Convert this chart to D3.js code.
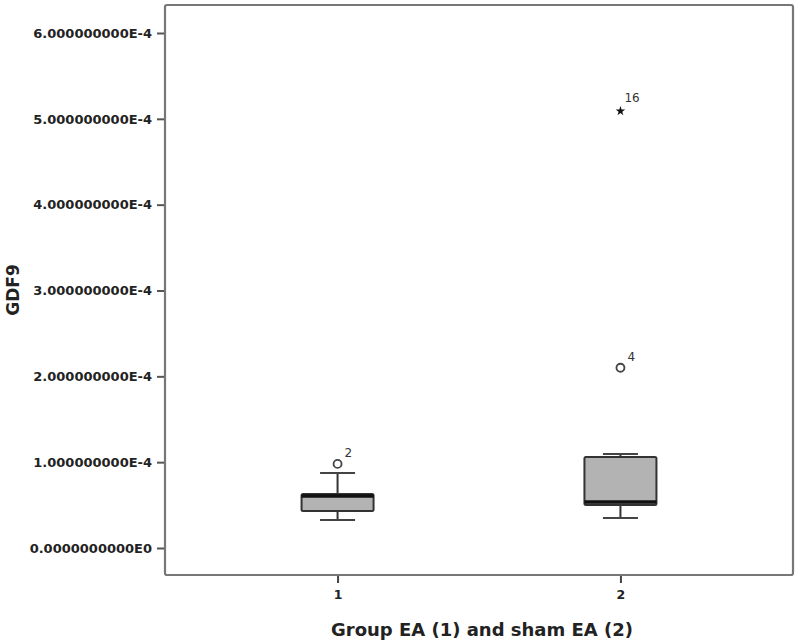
<!DOCTYPE html>
<html>
<head>
<meta charset="utf-8">
<script src="https://cdn.jsdelivr.net/npm/d3@7"></script>
<style>
  body { margin: 0; background: #fff; }
  text { font-family: "DejaVu Sans", sans-serif; }
</style>
</head>
<body>
<div id="chart"></div>
<script>
/* GDF9 boxplot, group EA vs sham EA */

// data
var groups = ["1", "2"];
var whiskerLow  = [0.326e-4, 0.35e-4];
var q1          = [0.43e-4,  0.50e-4];
var median      = [0.606e-4, 0.536e-4];
var q3          = [0.63e-4,  1.06e-4];
var whiskerHigh = [0.874e-4, 1.096e-4];

var outlierGroup = ["1", "2", "2"];
var outlierValue = [0.98e-4, 2.10e-4, 5.09e-4];
var outlierLabel = ["2", "4", "16"];
var outlierKind  = ["circle", "circle", "star"];

var yTicks = [0, 1e-4, 2e-4, 3e-4, 4e-4, 5e-4, 6e-4];

var boxes = groups.map(function(g, i) {
  return { group: g, lo: whiskerLow[i], q1: q1[i], med: median[i], q3: q3[i], hi: whiskerHigh[i] };
});
var outliers = outlierGroup.map(function(g, i) {
  return { group: g, value: outlierValue[i], label: outlierLabel[i], kind: outlierKind[i] };
});

var width = 800, height = 641;
var frame = { left: 165, top: 5, right: 793, bottom: 575 };

var svg = d3.select("#chart").append("svg")
            .attr("width", width)
            .attr("height", height);

// scales
var x = d3.scalePoint()
          .domain(groups)
          .range([frame.left, frame.right])
          .padding(0.61);

var y = d3.scaleLinear()
          .domain([0, 6e-4])
          .range([548, 33]);

function fmt(d) {
  if (d === 0) return "0.0000000000E0";
  return (d / 1e-4).toFixed(9) + "E-4";
}

// frame
svg.append("rect")
  .attr("x", frame.left)
  .attr("y", frame.top)
  .attr("width", frame.right - frame.left)
  .attr("height", frame.bottom - frame.top)
  .attr("rx", 2)
  .attr("fill", "none")
  .attr("stroke", "#777")
  .attr("stroke-width", 2.2);

// y axis
var yAxis = d3.axisLeft(y)
              .tickValues(yTicks)
              .tickFormat(fmt)
              .tickSize(7)
              .tickPadding(5);

var gy = svg.append("g")
  .attr("transform", "translate(" + (frame.left - 1) + ",0)")
  .call(yAxis);
gy.select(".domain").remove();
gy.selectAll(".tick line").attr("stroke", "#555").attr("stroke-width", 2);
gy.selectAll(".tick text")
  .attr("fill", "#222")
  .style("font-size", "13px")
  .style("font-weight", "bold");

// x axis
var xAxis = d3.axisBottom(x)
              .tickSize(7)
              .tickPadding(7);

var gx = svg.append("g")
  .attr("transform", "translate(0," + (frame.bottom + 1) + ")")
  .call(xAxis);
gx.select(".domain").remove();
gx.selectAll(".tick line").attr("stroke", "#444").attr("stroke-width", 2);
gx.selectAll(".tick text")
  .attr("fill", "#222")
  .style("font-size", "12.5px")
  .style("font-weight", "bold");

// axis titles
svg.append("text")
  .attr("x", (frame.left + frame.right) / 2 + 3)
  .attr("y", 636)
  .attr("text-anchor", "middle")
  .attr("fill", "#222")
  .style("font-size", "18px")
  .style("font-weight", "bold")
  .text("Group EA (1) and sham EA (2)");

svg.append("text")
  .attr("transform", "translate(19,290) rotate(-90)")
  .attr("text-anchor", "middle")
  .attr("fill", "#222")
  .style("font-size", "17px")
  .style("font-weight", "bold")
  .text("GDF9");

// boxes
var boxW = 72, capW = 35;

var gb = svg.selectAll("g.box")
  .data(boxes)
  .enter()
  .append("g")
  .attr("class", "box");

// whisker stems
gb.append("line")
  .attr("x1", function(d) { return x(d.group); })
  .attr("x2", function(d) { return x(d.group); })
  .attr("y1", function(d) { return y(d.hi); })
  .attr("y2", function(d) { return y(d.q3); })
  .attr("stroke", "#333").attr("stroke-width", 2);
gb.append("line")
  .attr("x1", function(d) { return x(d.group); })
  .attr("x2", function(d) { return x(d.group); })
  .attr("y1", function(d) { return y(d.q1); })
  .attr("y2", function(d) { return y(d.lo); })
  .attr("stroke", "#333").attr("stroke-width", 2);

// caps
gb.append("line")
  .attr("x1", function(d) { return x(d.group) - capW / 2; })
  .attr("x2", function(d) { return x(d.group) + capW / 2; })
  .attr("y1", function(d) { return y(d.hi); })
  .attr("y2", function(d) { return y(d.hi); })
  .attr("stroke", "#444").attr("stroke-width", 2);
gb.append("line")
  .attr("x1", function(d) { return x(d.group) - capW / 2; })
  .attr("x2", function(d) { return x(d.group) + capW / 2; })
  .attr("y1", function(d) { return y(d.lo); })
  .attr("y2", function(d) { return y(d.lo); })
  .attr("stroke", "#444").attr("stroke-width", 2);

// box body
gb.append("rect")
  .attr("x", function(d) { return x(d.group) - boxW / 2; })
  .attr("y", function(d) { return y(d.q3); })
  .attr("width", boxW)
  .attr("height", function(d) { return y(d.q1) - y(d.q3); })
  .attr("rx", 1.5)
  .attr("fill", "#b3b3b3")
  .attr("stroke", "#333")
  .attr("stroke-width", 2);

// median
gb.append("line")
  .attr("x1", function(d) { return x(d.group) - boxW / 2; })
  .attr("x2", function(d) { return x(d.group) + boxW / 2; })
  .attr("y1", function(d) { return y(d.med); })
  .attr("y2", function(d) { return y(d.med); })
  .attr("stroke", "#111")
  .attr("stroke-width", 3.5);

// outliers
var go = svg.selectAll("g.outlier")
  .data(outliers)
  .enter()
  .append("g")
  .attr("class", "outlier")
  .attr("transform", function(d) {
    return "translate(" + x(d.group) + "," + y(d.value) + ")";
  });

go.filter(function(d) { return d.kind === "circle"; })
  .append("circle")
  .attr("r", 4)
  .attr("fill", "#fff")
  .attr("stroke", "#444")
  .attr("stroke-width", 1.8);

go.filter(function(d) { return d.kind === "star"; })
  .append("path")
  .attr("d", d3.symbol().type(d3.symbolStar).size(28))
  .attr("fill", "#111");

go.append("text")
  .attr("x", function(d) { return d.kind === "star" ? 4 : 7; })
  .attr("y", function(d) { return d.kind === "star" ? -9 : -7; })
  .attr("fill", "#333")
  .style("font-size", "12px")
  .text(function(d) { return d.label; });
</script>
</body>
</html>
